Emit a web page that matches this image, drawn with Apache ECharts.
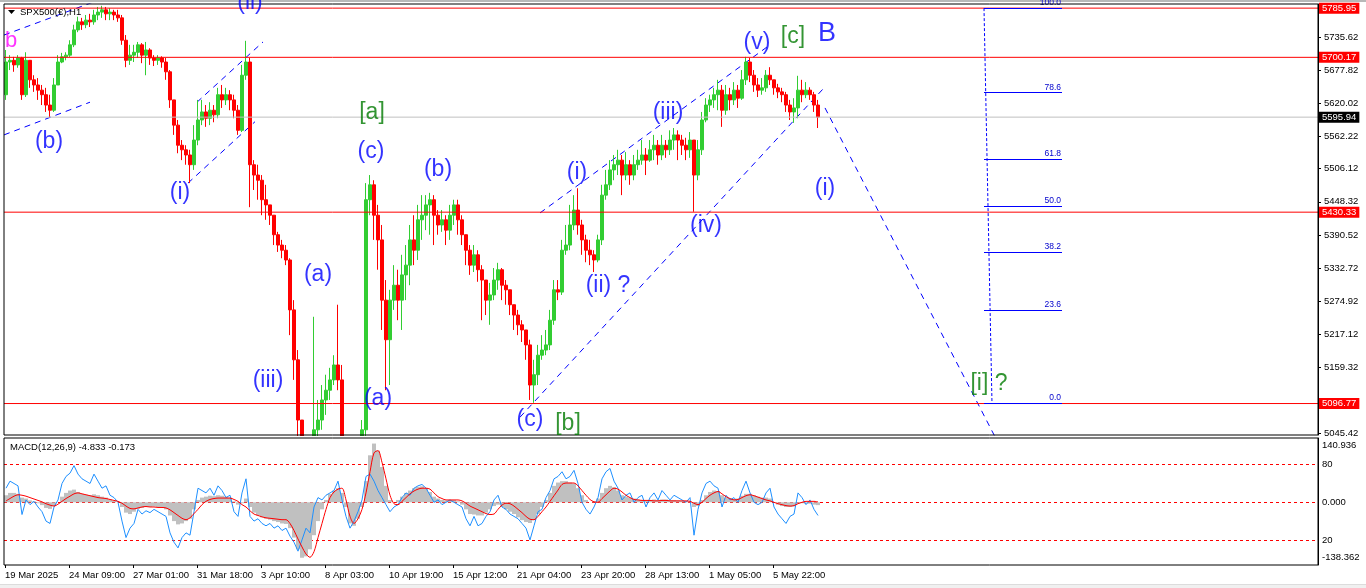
<!DOCTYPE html>
<html>
<head>
<meta charset="utf-8">
<script src="https://cdn.jsdelivr.net/npm/echarts@6/dist/echarts.min.js"></script>
<style>
html,body{margin:0;padding:0;background:#fff;overflow:hidden}
#chart{width:1366px;height:588px}
</style>
</head>
<body>
<div id="chart"></div>
<script>
// ---------------- DATA (H1 bars, one entry per ~4 hours) ----------------
const symbolTitle = 'SPX500(\u20AC),H1';
const macdTitle = 'MACD(12,26,9) -4.833 -0.173';
const firstOpen = 5635;
const closes = [
 5692,5695,5687,5699,5635,5695,5661,5652,5643,5635,
 5617,5608,5652,5692,5701,5704,5722,5748,5762,5757,
 5765,5762,5774,5779,5783,5776,5779,5774,5769,5730,
 5695,5704,5709,5722,5704,5713,5699,5695,5699,5692,
 5675,5626,5582,5547,5539,5530,5513,5556,5591,5605,
 5594,5608,5600,5635,5626,5635,5626,5608,5573,5669,
 5692,5513,5495,5486,5452,5443,5425,5391,5373,5364,
 5347,5260,5173,5068,4981,4964,4929,5051,5068,5103,
 5120,5138,5164,5138,5033,4981,4964,4946,4964,5051,
 5452,5478,5425,5382,5277,5208,5277,5303,5277,5321,
 5338,5382,5364,5417,5425,5443,5452,5425,5408,5417,
 5399,5425,5443,5417,5391,5364,5338,5356,5330,5312,
 5277,5286,5312,5330,5303,5295,5269,5251,5234,5225,
 5199,5129,5147,5181,5190,5199,5242,5295,5291,5364,
 5373,5408,5434,5408,5382,5364,5356,5347,5382,5460,
 5478,5504,5513,5521,5495,5513,5495,5513,5521,5530,
 5521,5539,5547,5530,5547,5539,5556,5565,5556,5547,
 5539,5556,5495,5539,5591,5617,5626,5635,5643,5608,
 5635,5626,5643,5629,5661,5692,5669,5652,5643,5647,
 5669,5661,5647,5640,5635,5617,5605,5612,5643,5635,
 5643,5635,5617,5596
];
const highs = [
 5713,5704,5701,5704,5701,5709,5695,5669,5664,5652,
 5647,5635,5664,5704,5708,5709,5730,5757,5771,5769,
 5774,5776,5783,5788,5790,5788,5786,5783,5783,5774,
 5739,5722,5722,5727,5725,5727,5716,5704,5704,5702,
 5699,5678,5626,5591,5556,5547,5539,5582,5626,5626,
 5617,5622,5617,5647,5652,5647,5643,5635,5617,5687,
 5729,5699,5521,5513,5495,5478,5443,5425,5396,5382,
 5373,5350,5277,5190,5051,4998,4981,5248,5103,5129,
 5147,5159,5181,5269,5164,5033,4998,4981,4998,5068,
 5481,5495,5486,5443,5408,5312,5295,5338,5330,5356,
 5373,5408,5425,5443,5460,5460,5464,5460,5434,5434,
 5425,5443,5452,5452,5425,5382,5373,5373,5364,5338,
 5303,5307,5333,5342,5333,5312,5295,5269,5260,5242,
 5225,5208,5173,5199,5216,5225,5260,5312,5312,5382,
 5408,5443,5460,5472,5417,5391,5382,5364,5391,5478,
 5504,5521,5530,5539,5530,5535,5521,5530,5539,5556,
 5542,5556,5565,5556,5565,5556,5573,5577,5573,5565,
 5560,5570,5556,5556,5605,5629,5635,5647,5661,5652,
 5652,5647,5657,5652,5678,5701,5699,5678,5664,5664,
 5678,5683,5661,5654,5647,5640,5626,5629,5668,5661,
 5657,5648,5640,5626
];
const lows = [
 5626,5678,5675,5682,5626,5631,5647,5640,5626,5617,
 5605,5596,5605,5652,5690,5695,5701,5718,5744,5748,
 5751,5753,5757,5765,5769,5765,5765,5765,5762,5722,
 5683,5687,5692,5699,5690,5669,5687,5685,5687,5682,
 5661,5612,5565,5533,5521,5513,5481,5504,5547,5582,
 5579,5582,5587,5594,5612,5617,5608,5594,5565,5570,
 5661,5439,5469,5452,5425,5417,5408,5373,5361,5350,
 5338,5216,5138,5025,4946,4894,4859,4911,4998,5051,
 5077,5103,5129,5120,4998,4946,4929,4894,4929,4929,
 5033,5425,5382,5330,5225,5120,5129,5260,5242,5225,
 5277,5303,5338,5347,5382,5399,5391,5373,5391,5396,
 5373,5382,5408,5391,5373,5338,5321,5326,5309,5242,
 5251,5234,5277,5295,5277,5269,5251,5225,5216,5204,
 5173,5103,5098,5129,5173,5181,5190,5234,5277,5286,
 5356,5364,5399,5391,5356,5343,5338,5326,5343,5373,
 5452,5469,5486,5495,5460,5486,5478,5486,5504,5513,
 5495,5518,5521,5513,5521,5525,5530,5539,5521,5530,
 5521,5525,5431,5486,5530,5587,5605,5612,5608,5579,
 5600,5608,5617,5612,5626,5652,5657,5640,5631,5635,
 5640,5652,5635,5629,5622,5605,5591,5586,5594,5622,
 5629,5626,5605,5577
];
const macdLine = [
 30,45,40,35,-26,5,-5,2,-10,-20,
 -40,-45,-10,5,40,55,62,78,60,50,
 45,40,60,45,30,35,15,10,0,-40,
 -75,-55,-45,-15,-25,-18,-22,-15,-20,-25,
 -30,-65,-85,-97,-75,-65,-70,-20,30,25,
 20,30,15,35,25,10,15,-20,-30,20,
 50,-30,-40,-35,-45,-50,-45,-55,-50,-60,
 -55,-72,-85,-104,-80,-55,-65,-10,10,5,
 15,20,25,45,5,-30,-55,-40,-20,5,
 55,60,45,25,10,-5,-20,-10,-5,10,
 20,15,30,35,38,30,15,0,5,-5,
 0,5,0,-5,-10,-35,-50,-30,-50,-45,
 -30,-20,5,15,-10,-15,-25,-30,-35,-45,
 -55,-80,-50,-20,-15,10,25,50,55,65,
 50,55,68,40,0,-15,-25,-10,10,50,
 65,72,45,30,5,15,20,0,10,15,
 -10,10,20,5,25,15,5,15,10,5,
 0,10,-70,-15,20,40,45,35,30,-10,
 15,5,10,0,25,45,20,0,-5,0,
 20,30,-10,-25,-35,-45,-30,-25,20,10,
 -5,5,-15,-28
];
const signalLine = [
 3,8,13,16,15,13,10,7,4,1,
 -3,-6,-8,-4,2,8,13,18,20,18,
 16,14,12,10,9,8,6,4,2,-2,
 -8,-13,-14,-12,-10,-9,-10,-10,-11,-11,
 -12,-16,-22,-28,-34,-37,-33,-24,-15,-5,
 2,6,8,9,9,9,9,6,2,-5,
 -10,-18,-25,-28,-31,-33,-34,-35,-36,-37,
 -37,-45,-60,-78,-95,-110,-117,-105,-75,-45,
 -15,10,22,28,30,5,-30,-45,-35,-15,
 20,65,105,110,85,50,15,-3,-5,2,
 10,18,24,28,30,30,28,20,12,8,
 5,5,5,5,3,-2,-8,-12,-16,-20,
 -24,-26,-25,-15,-6,-2,-3,-8,-15,-22,
 -30,-36,-37,-30,-20,-10,2,14,26,38,
 41,41,41,35,25,15,6,1,0,8,
 16,24,30,28,22,15,10,6,5,4,
 4,4,3,3,4,4,3,3,3,3,
 3,2,-2,-5,0,8,15,20,23,18,
 12,8,5,6,10,14,16,14,11,8,
 5,3,0,-3,-5,-7,-8,-7,-3,0,
 2,2,2,1
];
const histogram = [
 15,20,20,18,10,8,4,2,-2,-6,
 -12,-14,-8,0,12,20,25,27,22,18,
 16,15,17,15,12,10,6,3,0,-10,
 -22,-25,-20,-14,-12,-10,-10,-9,-10,-11,
 -15,-28,-40,-47,-45,-40,-35,-15,5,10,
 12,14,13,15,14,12,10,2,-5,-2,
 8,-10,-22,-28,-32,-35,-37,-40,-42,-45,
 -46,-55,-75,-100,-118,-115,-100,-70,-40,-15,
 5,18,25,30,20,-10,-45,-50,-35,-10,
 45,100,125,110,75,35,5,0,5,12,
 20,25,30,33,34,30,22,12,8,5,
 4,5,5,2,-5,-15,-25,-26,-28,-28,
 -22,-15,-8,-5,-10,-15,-20,-25,-32,-38,
 -42,-44,-38,-25,-10,5,20,35,42,45,
 45,42,40,30,15,5,0,2,8,20,
 30,35,32,25,15,12,10,8,6,5,
 4,5,6,5,6,6,5,5,4,3,
 3,2,-10,-8,5,15,22,25,24,15,
 10,8,7,8,14,18,18,15,12,10,
 10,8,0,-5,-8,-10,-10,-9,-3,-2,
 -3,-3,-5,-6
];
const timeLabels = ['19 Mar 2025','24 Mar 09:00','27 Mar 01:00','31 Mar 18:00','3 Apr 10:00','8 Apr 03:00',
  '10 Apr 19:00','15 Apr 12:00','21 Apr 04:00','23 Apr 20:00','28 Apr 13:00','1 May 05:00','5 May 22:00'];
const barsPerTimeLabel = 16;
const priceTicks = [5735.62,5677.82,5620.02,5562.22,5506.12,5448.32,5390.52,5332.72,5274.92,5217.12,5159.32,5045.42];
const levelLines = [5785.95, 5700.17, 5430.33, 5096.77];
const currentPrice = 5595.94;
const fibLow = 5096.77, fibHigh = 5785.95;
const fibRatios = [0.0, 23.6, 38.2, 50.0, 61.8, 78.6, 100.0];
const fibStart = 244.5, fibEnd = 264, fibLineEnd = 246.5;
const macdLevels = [80, 0, -80];
const macdTickValues = [121.9, 80, 0, -80, -116.4];
const macdTickTexts = ['140.936', '80', '0.000', '20', '-138.362'];
// dashed trend / channel lines: [[barIndex, price], [barIndex, price]]
const trendLines = [
  [[-0.5, 5739], [22, 5797]],
  [[-0.5, 5565], [21, 5622]],
  [[47.75, 5622], [64.25, 5727]],
  [[45.5, 5481], [62.25, 5588]],
  [[128.5, 5073], [204.25, 5645]],
  [[133.5, 5429], [191, 5722]],
  [[204.75, 5612], [248.5, 5022]]
];
// wave count labels: [barIndex, price, text]
const blueLabels = [
  [10.75, 5554, '(b)'], [61, 5795, '(ii)'], [43.5, 5465, '(i)'], [91.25, 5535, '(c)'],
  [108, 5505, '(b)'], [78, 5322, '(a)'], [65.5, 5136, '(iii)'], [93, 5105, '(a)'],
  [131, 5068, '(c)'], [142.75, 5500, '(i)'], [150.5, 5303, '(ii) ?'], [165.5, 5603, '(iii)'],
  [175, 5406, '(iv)'], [187.75, 5725, '(v)'], [204.75, 5471, '(i)']
];
const bigBlueLabels = [[205.25, 5742, 'B']];
const greenLabels = [[91.5, 5603, '[a]'], [140.5, 5061, '[b]'], [196.75, 5736, '[c]'], [245.75, 5132, '[i] ?']];
const pinkLabels = [[1.25, 5729, 'b']];

// ---------------- CHART ----------------
const FONT = '"Liberation Sans", Arial, sans-serif';
const X_MIN = -0.5, X_MAX = 328;
const Y_MIN = 5041.93, Y_MAX = 5793.14;
const M_MIN = -133.4, M_MAX = 136.8;

const candleData = closes.map((c, i) => {
  const o = i === 0 ? firstOpen : closes[i - 1];
  return [i, o, c, Math.min(lows[i], o, c), Math.max(highs[i], o, c)];
});
const timeTickPos = timeLabels.map((_, k) => k * barsPerTimeLabel - 0.25);

function textSeries(list, color, size) {
  return {
    type: 'scatter', xAxisIndex: 0, yAxisIndex: 0, clip: false, silent: true, z: 30,
    symbolSize: 1, itemStyle: { color: 'rgba(0,0,0,0)' },
    data: list.map(d => ({ value: [d[0], d[1]], name: d[2] })),
    label: { show: true, position: 'inside', formatter: '{b}', color: color, fontSize: size, fontFamily: FONT }
  };
}
function levelSeries(value, lineColor, boxColor) {
  return {
    type: 'line', xAxisIndex: 0, yAxisIndex: 0, data: [[X_MIN, value], [X_MAX, value]], symbol: 'none', silent: true, z: 3,
    lineStyle: { color: lineColor, width: 1, type: 'solid' },
    endLabel: { show: true, distance: 1, formatter: value.toFixed(2), color: '#fff', backgroundColor: boxColor,
      padding: [1, 3, 0, 3], fontSize: 9.5, fontFamily: FONT }
  };
}

const fibMarks = fibRatios.map(r => {
  const p = fibLow + (fibHigh - fibLow) * r / 100;
  return [{ coord: [fibStart, p], lineStyle: { color: '#0000ff', width: 1, type: 'solid' },
    label: { show: true, position: 'insideEndTop', distance: 1, formatter: r.toFixed(1), color: '#0000cc',
      fontSize: 8.5, fontFamily: FONT } },
    { coord: [fibEnd, p] }];
});
fibMarks.push([{ coord: [fibStart, fibHigh], lineStyle: { color: '#0000ff', width: 1, type: [3, 2] }, label: { show: false } },
  { coord: [fibLineEnd, fibLow] }]);

const series = [
  {
    type: 'candlestick', xAxisIndex: 0, yAxisIndex: 0, data: candleData, barWidth: 3, clip: true, z: 2,
    itemStyle: { color: '#32cd32', color0: '#ff0000', borderColor: '#32cd32', borderColor0: '#ff0000', borderWidth: 1 }
  },
  levelSeries(currentPrice, '#c0c0c0', '#000000')
];
levelLines.forEach(v => series.push(levelSeries(v, '#ff0000', '#ff0000')));
series.push({
  type: 'line', xAxisIndex: 0, yAxisIndex: 0, data: [], silent: true, z: 4,
  markLine: { symbol: ['none', 'none'], silent: true, animation: false,
    lineStyle: { color: '#0000ff', width: 1, type: 'solid', opacity: 1 }, data: fibMarks }
});
trendLines.forEach(seg => series.push({
  type: 'line', xAxisIndex: 0, yAxisIndex: 0, data: seg, symbol: 'none', showSymbol: false, silent: true, z: 2,
  lineStyle: { color: '#0000ff', width: 1, type: [6, 5] }
}));
series.push(textSeries(blueLabels, '#0000ff', 23));
series.push(textSeries(bigBlueLabels, '#0000ff', 27));
series.push(textSeries(greenLabels, '#007a00', 23));
series.push(textSeries(pinkLabels, '#ff00ff', 22));
series.push({
  type: 'bar', xAxisIndex: 1, yAxisIndex: 1, data: histogram.map((v, i) => [i, v]), barWidth: 4,
  itemStyle: { color: '#c0c0c0' }, silent: true, z: 6,
  markLine: { symbol: ['none', 'none'], silent: true, animation: false, label: { show: false },
    lineStyle: { color: '#ff0000', width: 1, type: [3, 3] }, data: macdLevels.map(v => ({ yAxis: v })) }
});
series.push({
  type: 'line', xAxisIndex: 1, yAxisIndex: 1, data: macdLine.map((v, i) => [i, v]), symbol: 'none', silent: true, z: 7,
  lineStyle: { color: '#1e90ff', width: 1 }
});
series.push({
  type: 'line', xAxisIndex: 1, yAxisIndex: 1, data: signalLine.map((v, i) => [i, v]), symbol: 'none', silent: true, z: 8,
  smooth: 0.3, lineStyle: { color: '#ff0000', width: 1 }
});

const option = {
  animation: false,
  backgroundColor: '#ffffff',
  grid: [
    { left: 4, right: 48, top: 4, height: 431, show: true, z: 9, borderColor: '#000', borderWidth: 1, backgroundColor: 'transparent' },
    { left: 4, right: 48, top: 438, height: 127, show: true, z: 9, borderColor: '#000', borderWidth: 1, backgroundColor: 'transparent' }
  ],
  xAxis: [
    { type: 'value', gridIndex: 0, min: X_MIN, max: X_MAX, show: false, axisLine: { onZero: false } },
    { type: 'value', gridIndex: 1, min: X_MIN, max: X_MAX, z: 9, splitLine: { show: false }, axisLine: { show: false, onZero: false },
      axisTick: { show: true, length: 3, customValues: timeTickPos, lineStyle: { color: '#000' } },
      axisLabel: { customValues: timeTickPos, align: 'left', margin: 5, fontSize: 9.5, color: '#000', fontFamily: FONT,
        formatter: v => timeLabels[Math.round((v + 0.25) / barsPerTimeLabel)] || '' } }
  ],
  yAxis: [
    { type: 'value', gridIndex: 0, position: 'right', min: Y_MIN, max: Y_MAX, z: 9, splitLine: { show: false },
      axisLine: { show: true, onZero: false, lineStyle: { color: '#000' } },
      axisTick: { show: true, length: 3, customValues: priceTicks, lineStyle: { color: '#000' } },
      axisLabel: { customValues: priceTicks, formatter: v => v.toFixed(2), margin: 6, fontSize: 9.5, color: '#000', fontFamily: FONT } },
    { type: 'value', gridIndex: 1, position: 'right', min: M_MIN, max: M_MAX, z: 9, splitLine: { show: false },
      axisLine: { show: true, onZero: false, lineStyle: { color: '#000' } }, axisTick: { show: false },
      axisLabel: { customValues: macdTickValues, margin: 4, fontSize: 9.5, color: '#000', fontFamily: FONT,
        formatter: v => { const k = macdTickValues.indexOf(v); return k >= 0 ? macdTickTexts[k] : ''; } } }
  ],
  graphic: [
    // white panel that hides price bars running below the price pane (MACD pane is drawn above it)
    { type: 'rect', left: 0, top: 436, z: 5, shape: { width: 1366, height: 152 }, style: { fill: '#ffffff' }, silent: true },
    { type: 'rect', left: 0, top: 0, z: 5, shape: { width: 1366, height: 2 }, style: { fill: '#b8b8b8' }, silent: true },
    { type: 'rect', left: 0, top: 584, z: 6, shape: { width: 1366, height: 4 }, style: { fill: '#f0f0f0' }, silent: true },
    { type: 'rect', left: 0, top: 584, z: 6, shape: { width: 1366, height: 1 }, style: { fill: '#dcdcdc' }, silent: true },
    { type: 'polygon', z: 50, shape: { points: [[8, 10], [15, 10], [11.5, 14]] }, style: { fill: '#000' }, silent: true },
    { type: 'text', left: 20, top: 7, z: 50, style: { text: symbolTitle, fontSize: 9.5, fontFamily: FONT, fill: '#000' }, silent: true },
    { type: 'text', left: 10, top: 442, z: 50, style: { text: macdTitle, fontSize: 9.5, fontFamily: FONT, fill: '#000' }, silent: true }
  ],
  series: series
};
const chart = echarts.init(document.getElementById('chart'));
chart.setOption(option);
</script>
</body>
</html>
